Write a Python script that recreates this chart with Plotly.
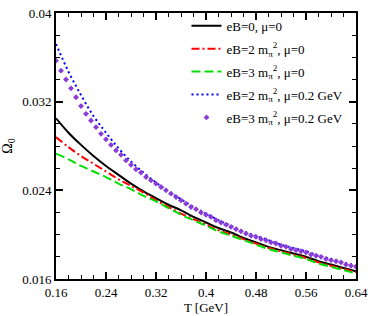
import plotly.graph_objects as go

# Temperature grid (GeV) for line series
T = [0.16, 0.18, 0.20, 0.22, 0.24, 0.26, 0.28, 0.30, 0.32, 0.34, 0.36, 0.38, 0.40,
     0.42, 0.44, 0.46, 0.48, 0.50, 0.52, 0.54, 0.56, 0.58, 0.60, 0.62, 0.64]

omega_eB0_mu0 = [0.0305, 0.0292, 0.0281, 0.0271, 0.0262, 0.0254, 0.0246, 0.0239, 0.0233,
                 0.0227, 0.0222, 0.0216, 0.0211, 0.0206, 0.0202, 0.0197, 0.0193, 0.0189,
                 0.0186, 0.0183, 0.0180, 0.0176, 0.0173, 0.0170, 0.0167]
omega_eB2_mu0 = [0.0288, 0.0279, 0.0271, 0.0264, 0.0257, 0.0250, 0.0244, 0.0238, 0.0231,
                 0.0225, 0.0219, 0.0214, 0.0209, 0.0204, 0.0200, 0.0196, 0.0192, 0.0188,
                 0.0185, 0.0182, 0.0179, 0.0175, 0.0172, 0.0169, 0.0166]
omega_eB3_mu0 = [0.0273, 0.0268, 0.0262, 0.0257, 0.0252, 0.0246, 0.0241, 0.0235, 0.0230,
                 0.0224, 0.0218, 0.0213, 0.0208, 0.0203, 0.0199, 0.0195, 0.0191, 0.0187,
                 0.0184, 0.0181, 0.0178, 0.0174, 0.0171, 0.0168, 0.0165]
omega_eB2_mu02 = [0.0372, 0.0347, 0.0326, 0.0307, 0.0292, 0.0278, 0.0266, 0.0256, 0.0247,
                  0.0239, 0.0232, 0.0225, 0.0219, 0.0213, 0.0208, 0.0203, 0.0199, 0.0195,
                  0.0191, 0.0188, 0.0185, 0.0181, 0.0178, 0.0175, 0.0172]

# Finer grid for the marker-only series
T_fine = [round(0.16 + 0.008 * i, 3) for i in range(61)]
omega_eB3_mu02 = [0.0357, 0.0348, 0.0340, 0.0332, 0.0324, 0.0316, 0.0309, 0.0303, 0.0297,
                  0.0291, 0.0286, 0.0281, 0.0276, 0.0272, 0.0267, 0.0263, 0.0259, 0.0256,
                  0.0252, 0.0249, 0.0246, 0.0243, 0.0240, 0.0237, 0.0234, 0.0231, 0.0228,
                  0.0225, 0.0223, 0.0220, 0.0218, 0.0216, 0.0213, 0.0211, 0.0209, 0.0207,
                  0.0205, 0.0203, 0.0201, 0.0199, 0.0198, 0.0196, 0.0195, 0.0193, 0.0192,
                  0.0190, 0.0189, 0.0187, 0.0186, 0.0185, 0.0184, 0.0182, 0.0181, 0.0180,
                  0.0178, 0.0177, 0.0176, 0.0175, 0.0173, 0.0172, 0.0171]

x_ticks = [0.16, 0.24, 0.32, 0.40, 0.48, 0.56, 0.64]
x_tick_labels = ["0.16", "0.24", "0.32", "0.4", "0.48", "0.56", "0.64"]
y_ticks = [0.016, 0.024, 0.032, 0.04]
y_tick_labels = ["0.016", "0.024", "0.032", "0.04"]

FONT = "Liberation Serif, Times New Roman, serif"

fig = go.Figure()
fig.add_trace(go.Scatter(x=T, y=omega_eB0_mu0, mode="lines", line_shape="spline", legendgroup="a",
                         name="eB=0, μ=0", line=dict(color="black", width=2)))
fig.add_trace(go.Scatter(x=T, y=omega_eB2_mu0, mode="lines", line_shape="spline", legendgroup="b",
                         name="eB=2 m<sub>π</sub><sup>2</sup>, μ=0",
                         line=dict(color="#ff0000", width=2, dash="8px,3px,2px,3px")))
fig.add_trace(go.Scatter(x=T, y=omega_eB3_mu0, mode="lines", line_shape="spline", legendgroup="c",
                         name="eB=3 m<sub>π</sub><sup>2</sup>, μ=0",
                         line=dict(color="#00e000", width=2, dash="9px,4px")))
fig.add_trace(go.Scatter(x=T, y=omega_eB2_mu02, mode="lines", line_shape="spline", legendgroup="d",
                         name="eB=2 m<sub>π</sub><sup>2</sup>, μ=0.2 GeV",
                         line=dict(color="#0000ff", width=2, dash="2px,3px")))
fig.add_trace(go.Scatter(x=T_fine, y=omega_eB3_mu02, mode="markers", legendgroup="e",
                         name="eB=3 m<sub>π</sub><sup>2</sup>, μ=0.2 GeV",
                         marker=dict(color="#8a3bd8", size=4.5, symbol="diamond")))

axis_common = dict(
    showline=True, linecolor="black", linewidth=2, mirror="allticks",
    ticks="inside", ticklen=7, tickwidth=1.5, tickcolor="black",
    showgrid=False, zeroline=False,
    tickfont=dict(family=FONT, size=13, color="black"),
    minor=dict(ticks="inside", ticklen=4, tickwidth=1, tickcolor="black", showgrid=False),
)

fig.update_xaxes(range=[0.16, 0.64], tickmode="array", tickvals=x_ticks, ticktext=x_tick_labels,
                 minor_dtick=0.02, title=dict(text="T [GeV]", font=dict(family=FONT, size=13, color="black"),
                                               standoff=1),
                 **axis_common)
fig.update_yaxes(range=[0.016, 0.04], tickmode="array", tickvals=y_ticks, ticktext=y_tick_labels,
                 minor_dtick=0.002, title=dict(text="Ω<sub>0</sub>", font=dict(family=FONT, size=14, color="black"),
                                               standoff=6),
                 **axis_common)

fig.update_layout(
    width=374, height=316,
    margin=dict(l=54, r=13, t=6, b=31),
    plot_bgcolor="white", paper_bgcolor="white",
    font=dict(family=FONT, color="black"),
    legend=dict(x=0.435, y=1.008, xanchor="left", yanchor="top",
                bgcolor="rgba(0,0,0,0)", borderwidth=0,
                font=dict(family=FONT, size=13, color="black"),
                itemwidth=30, tracegroupgap=3, traceorder="grouped"),
    showlegend=True,
)

fig.write_html("out.html", config={"displayModeBar": False},
               post_script="document.body.style.margin='0';document.body.style.padding='0';")
